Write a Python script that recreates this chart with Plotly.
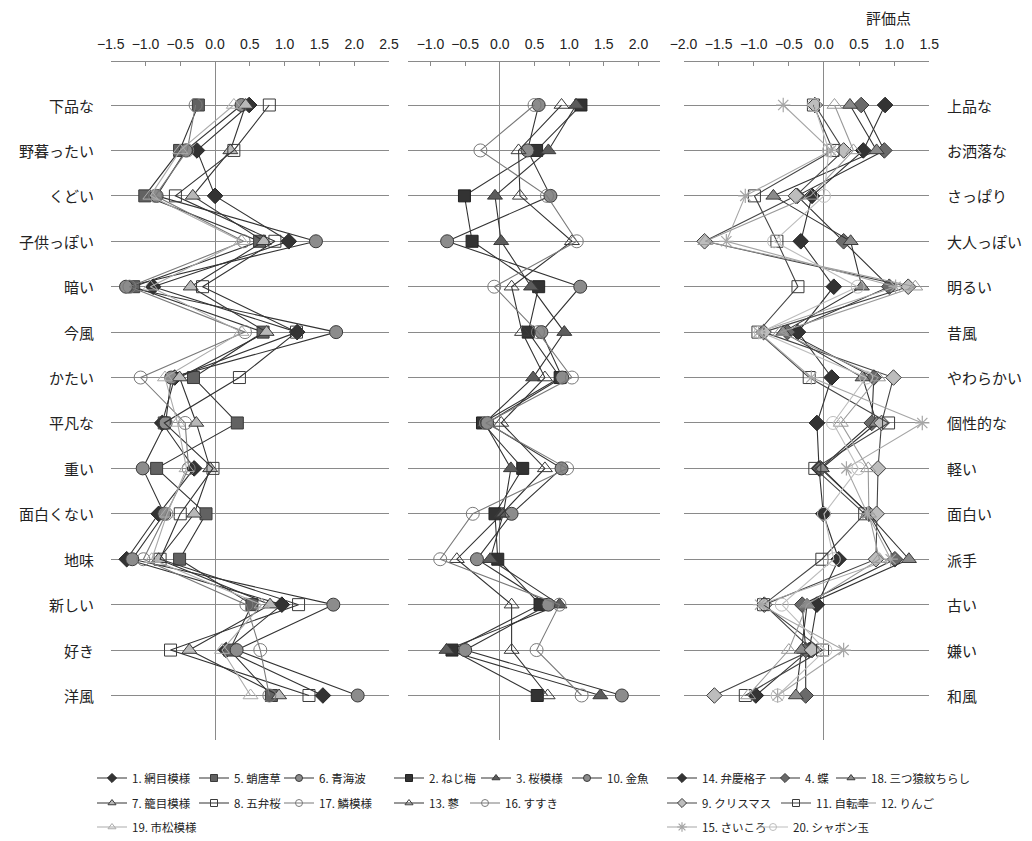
import plotly.graph_objects as go

# ---------------- data ----------------
left_labels = ["下品な", "野暮ったい", "くどい", "子供っぽい", "暗い", "今風", "かたい",
               "平凡な", "重い", "面白くない", "地味", "新しい", "好き", "洋風"]
right_labels = ["上品な", "お洒落な", "さっぱり", "大人っぽい", "明るい", "昔風", "やわらかい",
                "個性的な", "軽い", "面白い", "派手", "古い", "嫌い", "和風"]
rows = list(range(1, 15))

# panel 1
s1_amime = [0.49, -0.26, 0.00, 1.06, -0.89, 1.18, -0.58, -0.76, -0.30, -0.81, -1.27, 0.96, 0.16, 1.55]
s5_takokarakusa = [-0.24, -0.51, -1.01, 0.64, -1.17, 0.69, -0.31, 0.32, -0.84, -0.13, -0.51, 0.53, 0.21, 0.81]
s6_seigaiha = [0.38, -0.42, -0.84, 1.45, -1.28, 1.74, -0.63, -0.71, -1.04, -0.73, -1.19, 1.70, 0.31, 2.05]
s7_kagome = [0.44, 0.22, -0.32, 0.70, -0.35, 0.74, -0.51, -0.27, -0.07, -0.30, -0.81, 0.79, -0.37, 0.92]
s8_gobenzakura = [0.78, 0.27, -0.57, 0.86, -0.18, 1.17, 0.35, -0.73, -0.03, -0.50, -0.79, 1.20, -0.64, 1.35]
s17_uroko = [-0.28, -0.40, -0.86, 0.41, -1.23, 0.43, -1.07, -0.43, -0.38, -0.70, -1.03, 0.45, 0.65, 0.78]
s19_ichimatsu = [0.27, -0.50, -0.93, 0.38, -0.93, 0.38, -0.72, -0.54, -0.41, -0.69, -0.91, 0.67, 0.10, 0.51]

# panel 2
s2_nejiume = [1.17, 0.53, -0.51, -0.40, 0.56, 0.41, 0.87, -0.25, 0.33, -0.07, -0.03, 0.58, -0.69, 0.54]
s3_sakura = [1.10, 0.70, -0.07, 0.02, 0.45, 0.93, 0.48, -0.22, 0.16, 0.05, -0.14, 0.86, -0.77, 1.45]
s10_kingyo = [0.56, 0.40, 0.73, -0.76, 1.16, 0.60, 0.90, -0.18, 0.89, 0.17, -0.33, 0.70, -0.50, 1.76]
s13_tade = [0.89, 0.27, 0.29, 1.04, 0.17, 0.32, 0.65, 0.02, 0.65, 0.03, -0.62, 0.17, 0.17, 0.69]
s16_susuki = [0.50, -0.28, 0.68, 1.11, -0.08, 0.55, 1.04, -0.20, 0.97, -0.39, -0.86, 0.86, 0.53, 1.18]

# panel 3
s14_benkei = [0.87, 0.56, -0.17, -0.33, 0.14, -0.37, 0.11, -0.10, -0.07, -0.01, 0.21, -0.10, -0.21, -0.97]
s4_chou = [0.53, 0.86, -0.38, 0.28, 0.93, -0.52, 0.71, 0.68, -0.05, 0.64, 1.01, -0.31, -0.26, -0.26]
s18_mitsuzaru = [0.37, 0.75, -0.72, 0.38, 0.54, -0.58, 0.55, 0.75, -0.03, 0.63, 1.21, -0.24, -0.32, -0.40]
s9_christmas = [-0.13, 0.28, -0.40, -1.70, 1.20, -0.86, 0.99, 0.82, 0.77, 0.75, 0.74, -0.85, -0.17, -1.56]
s11_jitensha = [-0.15, 0.13, -0.99, -0.67, -0.37, -0.94, -0.21, 0.92, -0.13, 0.58, -0.03, -0.86, -0.02, -1.12]
s12_ringo = [0.15, 0.42, -0.19, -1.69, 1.30, -0.62, 0.77, 0.24, 0.63, 0.64, 0.79, -0.24, -0.50, -1.08]
s15_saikoro = [-0.58, 0.10, -1.12, -1.39, 1.02, -0.93, -0.18, 1.40, 0.32, 0.62, 0.95, -0.91, 0.28, -0.66]
s20_shabon = [-0.14, 0.07, 0.00, -0.71, 0.48, -0.90, 0.60, 0.13, 0.49, 0.00, 0.14, -0.60, 0.02, -0.66]

x_ticks = [-2.0, -1.5, -1.0, -0.5, 0.0, 0.5, 1.0, 1.5, 2.0, 2.5]

# ---------------- styles / geometry ----------------
OFF = 8                      # page body margin in the browser
W, H = 1032 - OFF, 841 - OFF  # figure size so that it fills the window


def px_x(px):
    return (px - OFF) / W


def px_y(py):
    return 1 - (py - OFF) / H


BLACK = "#333333"
DGRAY = "#626262"
MGRAY = "#8c8c8c"
LGRAY = "#b8b8b8"
OUT = "#3a3a3a"

panels = [
    [  # panel 1
        ("1. 網目模様", s1_amime, dict(symbol="diamond", size=12, color=BLACK, line=dict(color="#222", width=1)), BLACK),
        ("5. 蛸唐草", s5_takokarakusa, dict(symbol="square", size=12, color=DGRAY, line=dict(color=OUT, width=1)), BLACK),
        ("6. 青海波", s6_seigaiha, dict(symbol="circle", size=13, color=MGRAY, line=dict(color=OUT, width=1)), BLACK),
        ("7. 籠目模様", s7_kagome, dict(symbol="triangle-up", size=13, color=LGRAY, line=dict(color=OUT, width=1)), BLACK),
        ("8. 五弁桜", s8_gobenzakura, dict(symbol="square-open", size=12, color=OUT, line=dict(width=1)), BLACK),
        ("17. 鱗模様", s17_uroko, dict(symbol="circle-open", size=13, color="#7a7a7a", line=dict(width=1)), "#7a7a7a"),
        ("19. 市松模様", s19_ichimatsu, dict(symbol="triangle-up-open", size=13, color="#ababab", line=dict(width=1)), "#ababab"),
    ],
    [  # panel 2
        ("2. ねじ梅", s2_nejiume, dict(symbol="square", size=12, color=BLACK, line=dict(color="#222", width=1)), BLACK),
        ("3. 桜模様", s3_sakura, dict(symbol="triangle-up", size=13, color="#5c5c5c", line=dict(color=OUT, width=1)), BLACK),
        ("10. 金魚", s10_kingyo, dict(symbol="circle", size=13, color=MGRAY, line=dict(color=OUT, width=1)), BLACK),
        ("13. 蓼", s13_tade, dict(symbol="triangle-up-open", size=13, color=OUT, line=dict(width=1)), BLACK),
        ("16. すすき", s16_susuki, dict(symbol="circle-open", size=13, color="#7a7a7a", line=dict(width=1)), "#7a7a7a"),
    ],
    [  # panel 3
        ("14. 弁慶格子", s14_benkei, dict(symbol="diamond", size=12, color=BLACK, line=dict(color="#222", width=1)), BLACK),
        ("4. 蝶", s4_chou, dict(symbol="diamond", size=12, color="#6a6a6a", line=dict(color=OUT, width=1)), BLACK),
        ("18. 三つ猿紋ちらし", s18_mitsuzaru, dict(symbol="triangle-up", size=13, color="#8a8a8a", line=dict(color=OUT, width=1)), BLACK),
        ("9. クリスマス", s9_christmas, dict(symbol="diamond", size=12, color="#bdbdbd", line=dict(color=OUT, width=1)), "#444444"),
        ("11. 自転車", s11_jitensha, dict(symbol="square-open", size=12, color=OUT, line=dict(width=1)), "#444444"),
        ("12. りんご", s12_ringo, dict(symbol="triangle-up-open", size=13, color="#9a9a9a", line=dict(width=1)), "#9a9a9a"),
        ("15. さいころ", s15_saikoro, dict(symbol="asterisk-open", size=12, color="#a6a6a6", line=dict(width=1.2)), "#a6a6a6"),
        ("20. シャボン玉", s20_shabon, dict(symbol="circle-open", size=13, color="#bdbdbd", line=dict(width=1)), "#bdbdbd"),
    ],
]

# legend symbol centres (window pixels) for each series, in the same order
legend_pos = [
    [(114, 778), (216, 778), (301, 778), (114, 803), (216, 803), (301, 803), (114, 827)],
    [(411, 778), (498, 778), (589, 778), (411, 803), (487, 803)],
    [(684, 778), (787, 778), (853, 778), (684, 803), (798, 803), (863, 803), (684, 827), (775, 827)],
]

x_domains_px = [(110.7, 389.0), (408.3, 660.0), (683.5, 929.3)]
x_ranges = [[-1.5, 2.5], [-1.32, 2.31], [-2.0, 1.5]]
y_top_px, y_bot_px = 62, 740
y_range = [14.98, 0.053]

fig = go.Figure()
layout = {}
lg = 0
legend_traces = []
for p, series in enumerate(panels):
    ax = "" if p == 0 else str(p + 1)
    for k, (name, vals, marker, lcolor) in enumerate(series):
        lg += 1
        lname = "legend" if lg == 1 else f"legend{lg}"
        fig.add_trace(go.Scatter(
            x=vals, y=rows, mode="lines+markers", name=name,
            xaxis="x" + ax, yaxis="y" + ax,
            line=dict(color=lcolor, width=1.1),
            marker=marker, showlegend=False, cliponaxis=False,
        ))
        # small-marker legend entry for the same series
        small = dict(marker)
        small["size"] = 7 if "asterisk" not in marker["symbol"] else 8
        legend_traces.append(go.Scatter(
            x=[None], y=[None], mode="lines+markers", name=name,
            xaxis="x" + ax, yaxis="y" + ax,
            line=dict(color=lcolor, width=1.1), marker=small, legend=lname,
        ))
        cx, cy = legend_pos[p][k]
        layout[lname] = dict(
            x=px_x(cx - 22), y=px_y(cy), xanchor="left", yanchor="middle",
            orientation="h", bgcolor="rgba(0,0,0,0)", borderwidth=0,
            font=dict(family="Noto Sans CJK JP", size=11.5, color="#222"),
            itemclick=False, itemdoubleclick=False,
        )
    d0, d1 = x_domains_px[p]
    layout["xaxis" + ax] = dict(
        domain=[px_x(d0), px_x(d1)], range=x_ranges[p], side="top",
        anchor="y" + ax, tickvals=x_ticks, tickformat=".1f",
        showline=True, linecolor="#8a8a8a", linewidth=1,
        ticks="inside", ticklen=4, tickcolor="#8a8a8a",
        showgrid=False, zeroline=True, zerolinecolor="#8a8a8a", zerolinewidth=1.2,
        tickfont=dict(family="Liberation Sans, Arial", size=14, color="#222"),
        ticklabelstandoff=6, fixedrange=True,
    )
    layout["yaxis" + ax] = dict(
        domain=[px_y(y_bot_px), px_y(y_top_px)], range=y_range,
        anchor="x" + ax, tickvals=rows, showticklabels=False,
        showgrid=True, gridcolor="#8a8a8a", gridwidth=1.2,
        zeroline=False, showline=False, ticks="", fixedrange=True,
    )
for t in legend_traces:
    fig.add_trace(t)

annotations = []
for i, lab in enumerate(left_labels):
    annotations.append(dict(text=lab, x=px_x(96), xref="paper", y=rows[i], yref="y",
                            xanchor="right", yanchor="middle", showarrow=False,
                            font=dict(family="Noto Sans CJK JP", size=15, color="#222")))
for i, lab in enumerate(right_labels):
    annotations.append(dict(text=lab, x=px_x(945), xref="paper", y=rows[i], yref="y",
                            xanchor="left", yanchor="middle", showarrow=False,
                            font=dict(family="Noto Sans CJK JP", size=15, color="#222")))
annotations.append(dict(text="評価点", x=px_x(888), y=px_y(17), xref="paper", yref="paper",
                        xanchor="center", yanchor="middle", showarrow=False,
                        font=dict(family="Noto Sans CJK JP", size=15, color="#222")))

fig.update_layout(
    width=W, height=H, margin=dict(l=0, r=0, t=0, b=0, autoexpand=False),
    paper_bgcolor="white", plot_bgcolor="white",
    annotations=annotations, showlegend=True, **layout,
)

fig.write_html("out.html")
